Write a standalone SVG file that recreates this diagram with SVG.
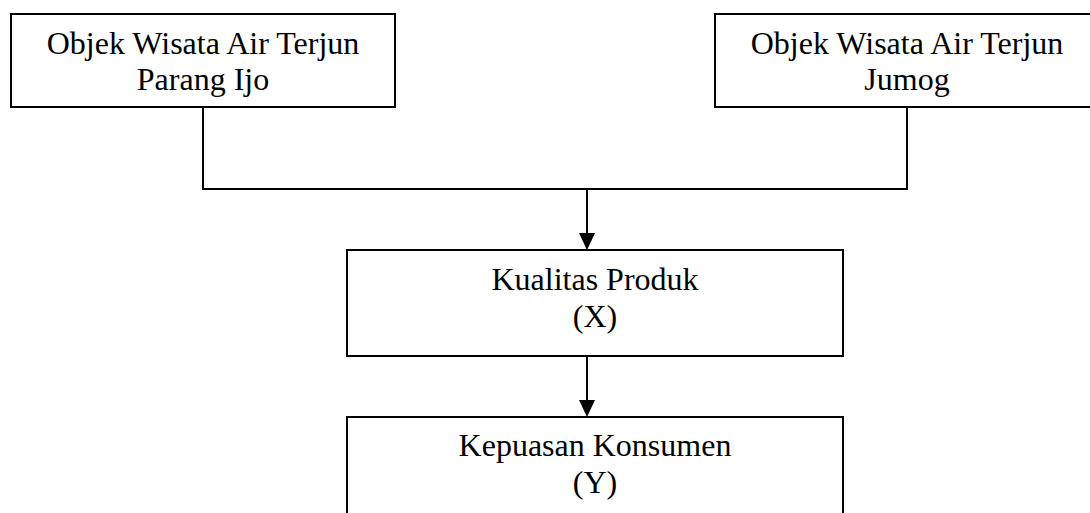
<svg xmlns="http://www.w3.org/2000/svg" width="1090" height="513" viewBox="0 0 1090 513">
<style>
rect.box{fill:#fff;stroke:#000;stroke-width:2}
text{font-family:"Liberation Serif","Times New Roman",serif;font-size:32px;fill:#000;text-anchor:middle}
.conn{fill:none;stroke:#000;stroke-width:2}
</style>
<defs>
<marker id="arr" viewBox="0 0 16 17" refX="8" refY="17" markerWidth="16" markerHeight="17" markerUnits="userSpaceOnUse" orient="auto-start-reverse">
<path d="M0,0 L16,0 L8,17 Z" fill="#000"/>
</marker>
</defs>
<rect width="1090" height="513" fill="#fff"/>
<g id="connectors">
<polyline class="conn" points="203,107 203,189 907,189 907,107"/>
<line class="conn" x1="587" y1="189" x2="587" y2="233"/>
<path d="M579,233 L595,233 L587,250 Z" fill="#000"/>
<line class="conn" x1="587" y1="356" x2="587" y2="400"/>
<path d="M579,400 L595,400 L587,417 Z" fill="#000"/>
</g>
<g id="node-parang-ijo">
<rect class="box" x="11" y="14" width="384" height="93"/>
<text x="203" y="54">Objek Wisata Air Terjun</text>
<text x="203" y="90">Parang Ijo</text>
</g>
<g id="node-jumog">
<rect class="box" x="715" y="14" width="385" height="93"/>
<text x="907" y="54">Objek Wisata Air Terjun</text>
<text x="907" y="90">Jumog</text>
</g>
<g id="node-kualitas">
<rect class="box" x="347" y="250" width="496" height="106"/>
<text x="595" y="290">Kualitas Produk</text>
<text x="595" y="327">(X)</text>
</g>
<g id="node-kepuasan">
<rect class="box" x="347" y="417" width="496" height="120"/>
<text x="595" y="456">Kepuasan Konsumen</text>
<text x="595" y="493">(Y)</text>
</g>
</svg>
